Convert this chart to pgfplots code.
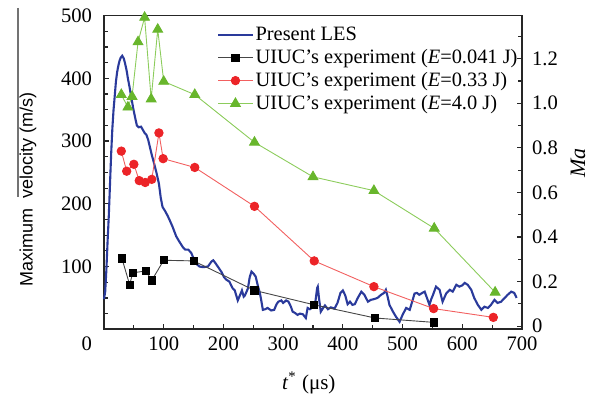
\documentclass[border=0pt]{standalone}
\usepackage{fontspec}
\setmainfont{Liberation Serif}
\setsansfont{Liberation Sans}
\usepackage{pgfplots}
\pgfplotsset{compat=1.18}

\definecolor{lesblue}{RGB}{42,58,155}
\definecolor{expred}{RGB}{236,36,40}
\definecolor{expredline}{RGB}{242,96,96}
\definecolor{expgreen}{RGB}{104,182,44}
\definecolor{expgreenline}{RGB}{140,204,92}
\definecolor{expgray}{RGB}{70,70,70}

% Present LES: maximum velocity history
\pgfplotstableread{
t V
0 48
2 60
4 95
6 140
8 180
10 230
12 280
14 320
16 350
18 372
20 395
22 410
24 420
26 428
28 433
30.5 436
33 432
35 425
38 412
40 400
43 385
46 368
49 352
52 338
55 325
58 322
62 323
65 318
68 313
71 310
74 302
77 290
80 278
84 264
88 249
92 232
95 210
98 195
102 189
106 182
110 174
115 163
121 148
126 140
132 131
136 127
141 127
146 122
150 113
155 104
160 100
166 99
174 100
180 108
183 110
187 105
192 98
197 91
201 83
205 79
210 76
215 66
219 62
224 46
228 55
231 62
234 52
236 54
241 65
244 83
247 92
251 88
254 84
258 68
261 58
263 48
266 31
270 32
274 34
280 30
285 31
289 40
292 44
297 46
300 42
305 46
309 44
313 36
316 28
320 26
324 23
328 25
333 24
338 18
341 34
345 32
350 36
354 44
357 66
358 68
360 50
363 28
367 34
370 38
375 32
380 35
386 33
391 42
396 58
400 62
404 54
408 40
412 44
416 39
420 40
425 50
431 60
436 55
442 44
447 47
452 48
458 50
464 55
469 58
472 63
475 52
478 39
484 28
489 20
495 12
500 23
506 34
512 31
517 47
520 57
524 58
528 55
533 58
537 60
542 47
545 39
548 48
551 55
556 68
562 63
567 44
573 57
579 63
584 60
590 71
595 68
600 70
604 74
609 71
615 63
620 50
626 39
632 31
637 36
643 34
648 39
654 47
659 42
665 44
671 50
676 55
682 60
687 58
691 50
}\lesdata

% UIUC experiments, E = 0.041 J
\pgfplotstableread{
t V
30 113
43 71
48 90
70 93
80 78
100 110
150 109
252 62
352 39
454 18
553 11
}\expA

% UIUC experiments, E = 0.33 J
\pgfplotstableread{
t V
29 284
38 252
50 263
59 237
69 234
80 239
92 313
99 272
152 258
252 196
352 109
452 68
552 33
652 19
}\expB

% UIUC experiments, E = 4.0 J
\pgfplotstableread{
t V
29 374
40 354
47 371
57 458
68 497
79 367
90 478
100 395
152 374
252 298
350 243
452 221
553 161
655 59
}\expC

\begin{document}
\begin{tikzpicture}
\path[use as bounding box] (-52pt,-32.8pt) rectangle (245pt,164.65pt);
\begin{axis}[
  scale only axis,
  width=209pt, height=156.85pt,
  xmin=0, xmax=700, ymin=0, ymax=500,
  clip=false,
  axis line style={line width=0.8pt, black!85},
  tick style={line width=0.6pt, black!85},
  tick align=inside,
  major tick length=2.6pt, minor tick length=2.2pt,
  xtick pos=bottom, ytick pos=left,
  xtick={0,100,200,300,400,500,600,700},
  xticklabels={\llap{0\hspace{6pt}},100,200,300,400,500,600,700},
  minor xtick={50,150,250,350,450,550,650},
  ytick={0,100,200,300,400,500},
  yticklabels={,100,200,300,400,500},
  minor ytick={25,50,75,125,150,175,225,250,275,325,350,375,425,450,475},
  tick label style={font=\fontsize{10.3}{12}\selectfont},
  yticklabel style={xshift=-2.5pt},
  xlabel={\textit{t}\textsuperscript{*} (μs)},
  xlabel style={at={(axis description cs:0.49,0)}, anchor=center, yshift=-26.8pt, font=\fontsize{10.5}{12}\selectfont},
  ylabel={Maximum\ \ velocity (m/s)},
  ylabel style={at={(axis description cs:-0.182,0.447)}, anchor=center, font=\sffamily\fontsize{9}{11}\selectfont},
  legend style={at={(axis description cs:0.995,0.972)}, anchor=north east,
    draw=none, fill=none, inner sep=0pt, row sep=0.9pt,
    font=\fontsize{10.2}{11}\selectfont,
    nodes={inner sep=1pt}},
  legend cell align=left,
]
\addplot[lesblue, line width=1.05pt, no marks] table[x=t, y=V] {\lesdata};
\addlegendentry{Present LES}
\addplot[expgray, line width=0.45pt, mark=square*, mark size=1.8pt,
  mark options={solid, fill=black, draw=black}] table[x=t, y=V] {\expA};
\addlegendentry{UIUC’s experiment (\textit{E}=0.041 J)}
\addplot[expredline, line width=0.45pt, mark=*, mark size=2.1pt,
  mark options={solid, fill=expred, draw=expred}] table[x=t, y=V] {\expB};
\addlegendentry{UIUC’s experiment (\textit{E}=0.33 J)}
\addplot[expgreenline, line width=0.45pt, mark=triangle*, mark size=2.8pt,
  mark options={solid, fill=expgreen, draw=expgreen}] table[x=t, y=V] {\expC};
\addlegendentry{UIUC’s experiment (\textit{E}=4.0 J)}
\draw[black!55, line width=0.6pt] (axis description cs:-0.2057,1.0245) -- (axis description cs:-0.2057,0.422);
\end{axis}
\begin{axis}[
  scale only axis,
  width=209pt, height=156.85pt,
  xmin=0, xmax=700, ymin=-0.014, ymax=1.393,
  axis x line=none,
  axis y line*=right,
  axis line style={line width=0.8pt, black!85, -},
  tick style={line width=0.6pt, black!85},
  tick align=inside,
  major tick length=2.6pt, minor tick length=2.2pt,
  ytick={0,0.2,0.4,0.6,0.8,1.0,1.2},
  yticklabels={0,0.2,0.4,0.6,0.8,1.0,1.2},
  minor ytick={0.1,0.3,0.5,0.7,0.9,1.1,1.3},
  tick label style={font=\fontsize{10.3}{12}\selectfont},
  yticklabel style={xshift=1.5pt},
  ylabel={\textit{Ma}},
  ylabel style={at={(axis description cs:1.134,0.53)}, anchor=center, font=\fontsize{11}{13}\selectfont},
]
\end{axis}
\end{tikzpicture}
\end{document}
